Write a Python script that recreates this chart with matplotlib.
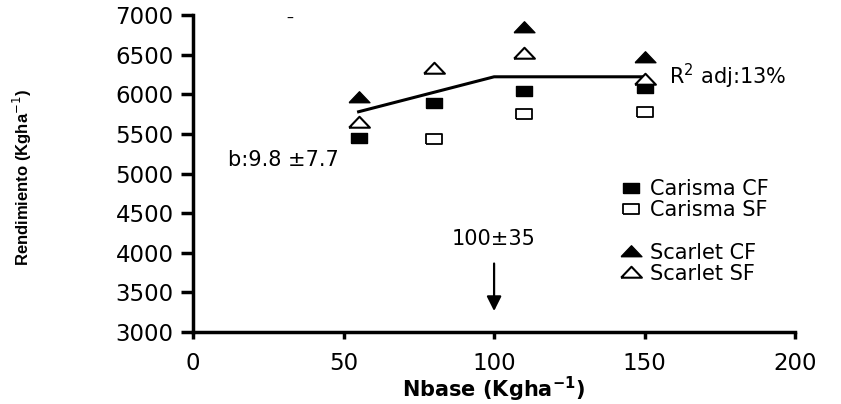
import matplotlib.pyplot as plt
import numpy as np

plt.rcParams['font.family'] = ['DejaVu Sans']

# nitrogen rates (kg/ha) and grain yield per treatment
nbase = [55, 80, 110, 150]
carisma_cf = [5450, 5890, 6040, 6080]
carisma_sf_n = [80, 110, 150]
carisma_sf = [5440, 5750, 5770]
scarlet_cf_n = [55, 110, 150]
scarlet_cf = [5960, 6850, 6470]
scarlet_sf = [5650, 6330, 6520, 6190]

# linear-plateau fit
slope = 9.8
knee = 100
plateau = 6220
fit_x = [55, knee, 150]
fit_y = [plateau - slope * (knee - 55), plateau, plateau]

# flattened marker shapes
sq = [(-1, -0.55), (1, -0.55), (1, 0.55), (-1, 0.55), (-1, -0.55)]
tri = [(-1, -0.5), (1, -0.5), (0, 0.55), (-1, -0.5)]

fig = plt.figure(figsize=(8.41, 4.04), dpi=100)
ax = fig.add_axes([0.2295, 0.178, 0.716, 0.785])

h1, = ax.plot(nbase, carisma_cf, ls='none', marker=sq, ms=12, mfc='black', mec='black')
h2, = ax.plot(carisma_sf_n, carisma_sf, ls='none', marker=sq, ms=12, mfc='white', mec='black', mew=1.3)
h3, = ax.plot(scarlet_cf_n, scarlet_cf, ls='none', marker=tri, ms=15, mfc='black', mec='black')
h4, = ax.plot(nbase, scarlet_sf, ls='none', marker=tri, ms=15, mfc='white', mec='black', mew=1.5)
ax.plot(fit_x, fit_y, color='black', lw=2.2, zorder=1)

ax.text(158, 6230, 'R$^{2}$ adj:13%', fontsize=15, va='center', ha='left')
ax.text(11.5, 5170, 'b:9.8 \u00b17.7', fontsize=15, va='center', ha='left')
ax.text(100, 4180, '100\u00b135', fontsize=15, va='center', ha='center')
ax.annotate('', xy=(knee, 3230), xytext=(knee, 3900),
            arrowprops=dict(arrowstyle='-|>', color='black', lw=1.6, mutation_scale=22))
ax.text(32, 6950, '\u2013', fontsize=10, ha='center', va='center')

leg1 = ax.legend([h1, h2], ['Carisma CF', 'Carisma SF'], loc='upper left',
                 bbox_to_anchor=(0.69, 0.515), frameon=False, fontsize=15,
                 handletextpad=0.3, labelspacing=0.05, handlelength=1.2, borderpad=0)
ax.add_artist(leg1)
ax.legend([h3, h4], ['Scarlet CF', 'Scarlet SF'], loc='upper left',
          bbox_to_anchor=(0.69, 0.315), frameon=False, fontsize=15,
          handletextpad=0.3, labelspacing=0.05, handlelength=1.2, borderpad=0)

ax.set_xlim(0, 200)
ax.set_ylim(3000, 7000)
ax.set_xticks([0, 50, 100, 150, 200])
ax.set_yticks(np.arange(3000, 7001, 500))
ax.spines['top'].set_visible(False)
ax.spines['right'].set_visible(False)
ax.spines['left'].set_linewidth(2.5)
ax.spines['bottom'].set_linewidth(2.5)
ax.tick_params(axis='both', direction='out', width=2.5, labelsize=16.5)
ax.tick_params(axis='y', length=9, pad=5)
ax.tick_params(axis='x', length=5, pad=9)

fig.text(0.587, 0.035, 'Nbase (Kgha$^{\\mathbf{-1}}$)', fontsize=15, fontweight='bold',
         va='center', ha='center')
fig.text(0.027, 0.56, 'Rendimiento (Kgha$^{-1}$)', rotation=90, fontsize=12,
         fontweight='bold', va='center', ha='center', family=['Liberation Sans'])

fig.savefig('out.png', dpi=100)
